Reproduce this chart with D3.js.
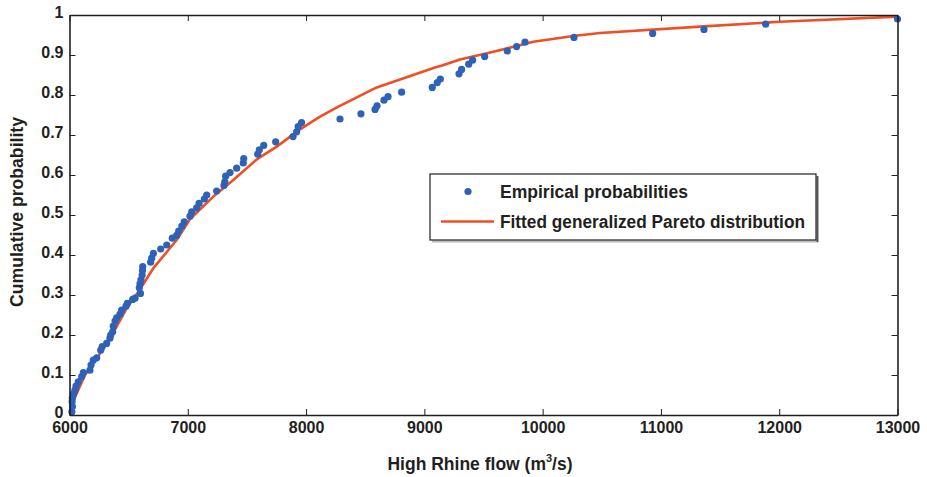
<!DOCTYPE html>
<html>
<head>
<meta charset="utf-8">
<script src="https://cdn.jsdelivr.net/npm/d3@7"></script>
<style>
  html, body { margin: 0; padding: 0; background: #fff; }
  svg { display: block; }
  text { font-family: "Liberation Sans", Arial, Helvetica, sans-serif; font-weight: bold; fill: #231f20; }
</style>
</head>
<body>
<div id="chart"></div>
<script>
// ---- data ----
const flow = [6020, 6025, 6022, 6024, 6032, 6046, 6055, 6074, 6103, 6117, 6173, 6182, 6201, 6230, 6264, 6277,
  6314, 6342, 6348, 6365, 6370, 6385, 6399, 6427, 6441, 6478, 6489, 6534, 6554, 6600, 6590, 6596, 6604, 6614,
  6617, 6619, 6686, 6695, 6709, 6771, 6822, 6869, 6906, 6923, 6950, 6970, 7019, 7033, 7075, 7095, 7140, 7160,
  7244, 7306, 7313, 7320, 7357, 7413, 7469, 7473, 7591, 7605, 7642, 7743, 7890, 7920, 7933, 7962, 8287, 8464,
  8583, 8600, 8659, 8693, 8808, 9067, 9109, 9135, 9293, 9315, 9375, 9408, 9510, 9701, 9780, 9851, 10265, 10930,
  11364, 11885, 13000];
const empiricalProb = [0.008, 0.021, 0.033, 0.042, 0.052, 0.062, 0.072, 0.083, 0.096, 0.106, 0.112, 0.125, 0.137,
  0.143, 0.162, 0.171, 0.179, 0.192, 0.200, 0.208, 0.222, 0.235, 0.243, 0.252, 0.262, 0.272, 0.279, 0.289, 0.292,
  0.304, 0.318, 0.328, 0.338, 0.350, 0.361, 0.371, 0.382, 0.392, 0.404, 0.415, 0.425, 0.442, 0.449, 0.460, 0.472,
  0.483, 0.497, 0.508, 0.518, 0.529, 0.540, 0.550, 0.560, 0.574, 0.583, 0.597, 0.606, 0.617, 0.630, 0.641, 0.652,
  0.663, 0.674, 0.683, 0.696, 0.708, 0.721, 0.731, 0.740, 0.753, 0.764, 0.773, 0.787, 0.796, 0.807, 0.819, 0.831,
  0.840, 0.853, 0.864, 0.877, 0.887, 0.896, 0.910, 0.921, 0.932, 0.944, 0.954, 0.964, 0.977, 0.990];

const fitFlow = [6010, 6131, 6258, 6370, 6484, 6582, 6709, 6906, 7019, 7216, 7385, 7583, 7752, 7949, 8118, 8273,
  8597, 9090, 9150, 9301, 9583, 9921, 10259, 10485, 11330, 12007, 13000];
const fitProb = [0.020, 0.100, 0.154, 0.206, 0.267, 0.308, 0.367, 0.4375, 0.490, 0.546, 0.5875, 0.639, 0.671,
  0.714, 0.746, 0.771, 0.819, 0.869, 0.874, 0.889, 0.908, 0.933, 0.9475, 0.955, 0.971, 0.983, 0.996];

const xTicks = [6000, 7000, 8000, 9000, 10000, 11000, 12000, 13000];
const yTicks = [0, 0.1, 0.2, 0.3, 0.4, 0.5, 0.6, 0.7, 0.8, 0.9, 1];
const yTickLabels = ["0", "0.1", "0.2", "0.3", "0.4", "0.5", "0.6", "0.7", "0.8", "0.9", "1"];
const legendLabels = ["Empirical probabilities", "Fitted generalized Pareto distribution"];

// ---- layout ----
const W = 927, H = 477;
const L = 69.5, R = 897.5, T = 15, B = 415;
const dotColor = "#2e62b6", lineColor = "#f04e23";

const svg = d3.select("#chart").append("svg").attr("width", W).attr("height", H);

const x = d3.scaleLinear().domain([6000, 13000]).range([L, R]);
const y = d3.scaleLinear().domain([0, 1]).range([B, T]);

// fitted line
const line = d3.line().x(d => x(d[0])).y(d => y(d[1]));
svg.append("path")
  .datum(fitFlow.map((f, i) => [f, fitProb[i]]))
  .attr("d", line)
  .attr("fill", "none")
  .attr("stroke", lineColor)
  .attr("stroke-width", 2.6)
  .attr("stroke-linejoin", "round");

// points
svg.append("g").selectAll("circle")
  .data(flow.map((f, i) => [f, empiricalProb[i]]))
  .join("circle")
  .attr("cx", d => x(d[0]))
  .attr("cy", d => y(d[1]))
  .attr("r", 3.6)
  .attr("fill", dotColor);

// axes (ticks inside)
const tickLen = 6;
const axB = d3.axisBottom(x).tickValues(xTicks).tickSizeInner(-tickLen).tickSizeOuter(0).tickPadding(7).tickFormat(d3.format("d"));
const axT = d3.axisTop(x).tickValues(xTicks).tickSizeInner(-tickLen).tickSizeOuter(0).tickFormat("");
const axL = d3.axisLeft(y).tickValues(yTicks).tickSizeInner(-tickLen).tickSizeOuter(0).tickPadding(6)
  .tickFormat((d, i) => yTickLabels[i]);
const axR = d3.axisRight(y).tickValues(yTicks).tickSizeInner(-tickLen).tickSizeOuter(0).tickFormat("");

function styleAxis(g) {
  g.select(".domain").attr("stroke", "#231f20").attr("stroke-width", 1.6);
  g.selectAll(".tick line").attr("stroke", "#231f20").attr("stroke-width", 1);
  g.selectAll(".tick text").attr("font-size", 16).attr("font-family", null).attr("fill", "#231f20");
}
svg.append("g").attr("transform", `translate(0,${B})`).call(axB).call(styleAxis);
svg.append("g").attr("transform", `translate(0,${T})`).call(axT).call(styleAxis);
const gl = svg.append("g").attr("transform", `translate(${L},0)`).call(axL).call(styleAxis);
gl.selectAll(".tick text").attr("dy", "0.15em");
svg.append("g").attr("transform", `translate(${R},0)`).call(axR).call(styleAxis);

// axis titles
const xt = svg.append("text").attr("x", 480).attr("y", 470).attr("text-anchor", "middle").attr("font-size", 17.5);
xt.append("tspan").text("High Rhine flow (m");
xt.append("tspan").attr("font-size", 11).attr("dy", -8).text("3");
xt.append("tspan").attr("dy", 8).text("/s)");

svg.append("text")
  .attr("transform", "translate(23,212) rotate(-90)")
  .attr("text-anchor", "middle")
  .attr("font-size", 17.5)
  .attr("textLength", 190).attr("lengthAdjust", "spacingAndGlyphs")
  .text("Cumulative probability");

// legend
const lg = svg.append("g");
lg.append("line").attr("x1", 432).attr("x2", 818).attr("y1", 241.5).attr("y2", 241.5).attr("stroke", "#bbb").attr("stroke-width", 2);
lg.append("line").attr("x1", 817.5).attr("x2", 817.5).attr("y1", 176).attr("y2", 242).attr("stroke", "#555").attr("stroke-width", 2);
lg.append("rect").attr("x", 430).attr("y", 174).attr("width", 386).attr("height", 66)
  .attr("fill", "#fff").attr("stroke", "#231f20").attr("stroke-width", 1.2);
lg.append("circle").attr("cx", 468).attr("cy", 191.5).attr("r", 3.6).attr("fill", dotColor);
lg.append("line").attr("x1", 441).attr("x2", 494).attr("y1", 221.5).attr("y2", 221.5).attr("stroke", lineColor).attr("stroke-width", 2.6);
lg.append("text").attr("x", 500).attr("y", 198).attr("font-size", 18)
  .attr("textLength", 188).attr("lengthAdjust", "spacingAndGlyphs").text(legendLabels[0]);
lg.append("text").attr("x", 500).attr("y", 228).attr("font-size", 18)
  .attr("textLength", 305).attr("lengthAdjust", "spacingAndGlyphs").text(legendLabels[1]);
</script>
</body>
</html>
